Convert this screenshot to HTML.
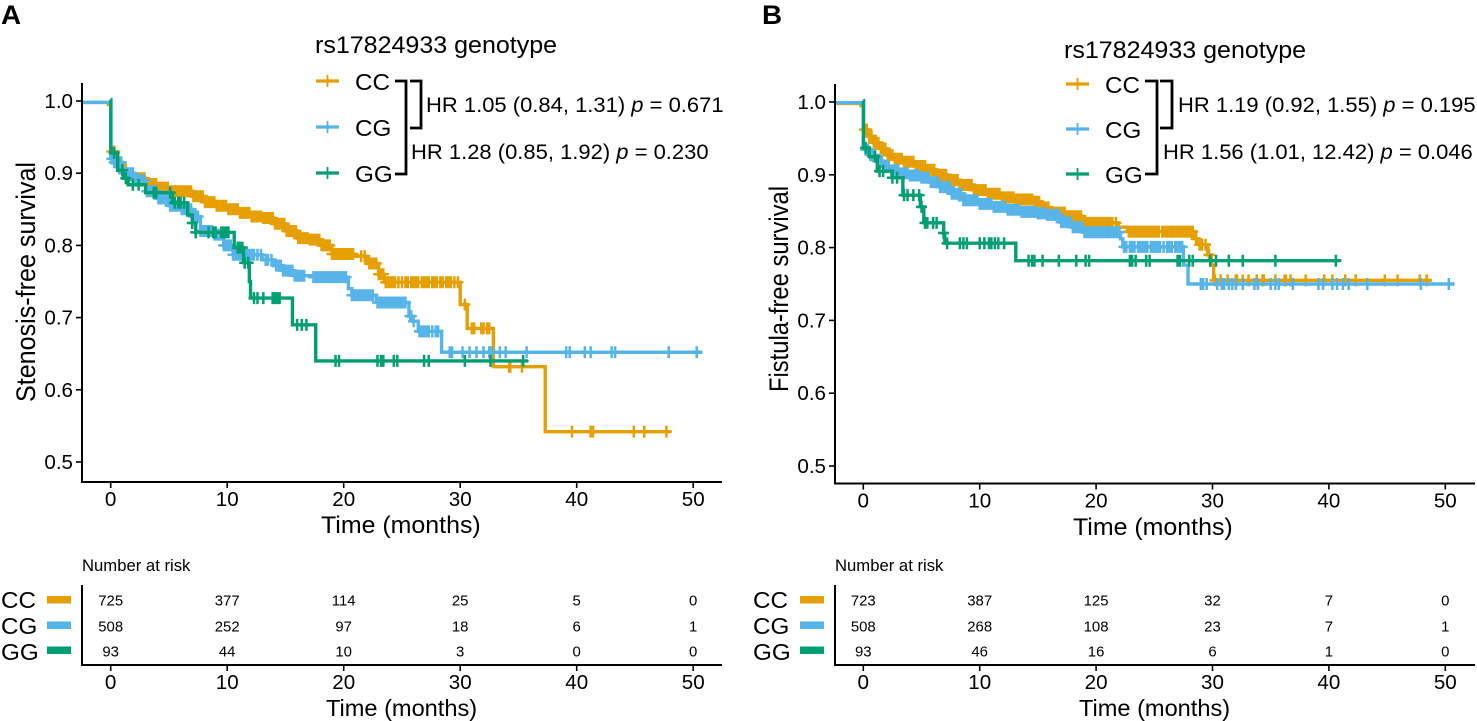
<!DOCTYPE html>
<html lang="en">
<head>
<meta charset="utf-8">
<title>Kaplan-Meier survival by rs17824933 genotype</title>
<style>
html,body{margin:0;padding:0;background:#fff;width:1477px;height:721px;overflow:hidden}
svg{display:block}
text{font-family:"Liberation Sans",Arial,sans-serif;fill:#000}
.title{font-size:24.3px}
.hr{font-size:21.35px}
.leg{font-size:23.5px}
.lab{font-size:24.2px}
.lab2{font-size:22.9px}
.rot{font-size:26.5px}
.nar{font-size:16.2px}
.letter{font-size:27px;font-weight:bold}
.tick{font-size:20px}
.risk{font-size:14.5px}
.br{fill:none;stroke:#000;stroke-width:2.8;stroke-linejoin:miter}
</style>
</head>
<body>
<svg id="chart" xmlns="http://www.w3.org/2000/svg" width="1477" height="721" viewBox="0 0 1477 721">
  <text class="letter hs" x="1" y="24">A</text>
  <text class="letter hs" x="762" y="24">B</text>

  <text class="rot" transform="translate(35,282) rotate(-90)" text-anchor="middle" textLength="240" lengthAdjust="spacingAndGlyphs">Stenosis-free survival</text>
  <text class="rot" transform="translate(788,289) rotate(-90)" text-anchor="middle" textLength="206" lengthAdjust="spacingAndGlyphs">Fistula-free survival</text>

  <text class="lab hs" x="321" y="533">Time (months)</text>
  <text class="lab hs" x="1073" y="535">Time (months)</text>
  <text class="lab2 hs" x="326" y="716">Time (months)</text>
  <text class="lab2 hs" x="1079" y="716">Time (months)</text>

  <text class="title hs" x="315" y="53">rs17824933 genotype</text>
  <text class="leg hs" x="355" y="90">CC</text>
  <text class="leg hs" x="355" y="136">CG</text>
  <text class="leg hs" x="355" y="182">GG</text>
  <path class="br" d="M395 81H406V174H395"/>
  <path class="br" d="M410 81H421V128H410"/>
  <text class="hr hs" x="426" y="112">HR 1.05 (0.84, 1.31) <tspan font-style="italic">p</tspan> = 0.671</text>
  <text class="hr hs" x="411" y="159">HR 1.28 (0.85, 1.92) <tspan font-style="italic">p</tspan> = 0.230</text>

  <text class="title hs" x="1064" y="58">rs17824933 genotype</text>
  <text class="leg hs" x="1105" y="93">CC</text>
  <text class="leg hs" x="1105" y="138">CG</text>
  <text class="leg hs" x="1105" y="183">GG</text>
  <path class="br" d="M1145 81H1157V174H1145"/>
  <path class="br" d="M1160 81H1172V128H1160"/>
  <text class="hr hs" x="1178" y="112">HR 1.19 (0.92, 1.55) <tspan font-style="italic">p</tspan> = 0.195</text>
  <text class="hr hs" x="1163" y="159">HR 1.56 (1.01, 12.42) <tspan font-style="italic">p</tspan> = 0.046</text>

  <text class="nar hs" x="82" y="571">Number at risk</text>
  <text class="nar hs" x="835" y="571">Number at risk</text>
  <text class="leg hs" x="1" y="608">CC</text>
  <text class="leg hs" x="1" y="634">CG</text>
  <text class="leg hs" x="1" y="660">GG</text>
  <text class="leg hs" x="753" y="608">CC</text>
  <text class="leg hs" x="753" y="634">CG</text>
  <text class="leg hs" x="753" y="660">GG</text>
  <g id="marks"></g>
</svg>
<script>
const xTickLabels = [0, 10, 20, 30, 40, 50];
const yTickLabels = [1.0, 0.9, 0.8, 0.7, 0.6, 0.5];
const groupNames = ['CC', 'CG', 'GG'];
const groupColors = ['#E69F00', '#56B4E9', '#009E73'];

const aCCTimes = [-2.4,-0.2,0,0.5,1,1.5,2,3,4,5,6.5,7,8,9,10,11,12,13,14,15,16,17,18,19,20.9,22,23,23.5,30,30.3,30.6,32.85,37.3];
const aCCSurv = [0.998,0.995,0.93,0.915,0.905,0.898,0.893,0.885,0.88,0.875,0.875,0.868,0.86,0.855,0.85,0.845,0.84,0.838,0.83,0.82,0.81,0.808,0.80,0.788,0.785,0.775,0.76,0.749,0.718,0.718,0.685,0.632,0.542];
const aCCCensor = [0.1,0.3,0.5,0.7,0.9,1.1,1.3,1.5,1.7,1.9,2.1,2.3,2.5,2.7,2.9,3.1,3.3,3.5,3.7,3.9,4.1,4.3,4.5,4.7,4.9,5.1,5.3,5.5,5.7,5.9,6.1,6.3,6.5,6.7,6.9,7.1,7.3,7.5,7.7,7.9,8.1,8.3,8.5,8.7,8.9,9.1,9.3,9.5,9.7,9.9,10.1,10.3,10.5,10.7,10.9,11.1,11.3,11.5,11.7,11.9,12.1,12.3,12.5,12.7,12.9,13.1,13.3,13.5,13.7,13.9,14.1,14.3,14.5,14.7,14.9,15.1,15.3,15.5,15.7,15.9,16.1,16.3,16.5,16.7,16.9,17.1,17.3,17.5,17.7,17.9,18.1,18.3,18.5,18.6,18.8,19,19.2,19.4,19.6,19.8,20,20.2,20.4,20.6,20.8,21.5,21.8,22.2,22.4,22.6,22.8,23,23.2,23.4,23.6,23.8,24,24.2,24.4,24.7,25,25.3,25.5,25.8,26,26.2,26.4,26.7,26.9,27.1,27.3,27.6,27.8,28,28.3,28.5,28.8,29,29.2,29.5,29.8,30.4,31,31.2,31.8,32,32.3,32.5,34.2,34.3,35.3,39.6,41.2,41.4,44.9,45.8,47.7];
const aCGTimes = [-2.4,0,0.3,1,2,3,4,5,6,7,7.7,8.8,9.7,10.5,13,14,14.8,15.7,17.4,20.4,20.7,22.8,25.6,25.9,26.4,28.4];
const aCGSurv = [0.998,0.92,0.915,0.90,0.89,0.875,0.865,0.855,0.85,0.84,0.82,0.815,0.80,0.787,0.78,0.772,0.765,0.758,0.756,0.74,0.731,0.721,0.702,0.695,0.681,0.652];
const aCGCensor = [0.1,0.3,0.5,0.7,0.9,1.1,1.3,1.5,1.7,1.9,2.1,2.3,2.5,2.7,2.9,3.1,3.3,3.5,3.7,3.9,4.1,4.3,4.5,4.7,4.9,5.1,5.3,5.5,5.7,5.9,6.1,6.3,6.5,6.7,6.9,7.1,7.3,7.5,7.7,7.9,8.1,8.3,8.5,8.7,8.9,9.1,9.3,9.5,9.7,9.9,10.1,10.3,10.5,10.7,10.9,11.1,11.3,11.5,11.7,11.9,12.1,12.3,12.6,12.9,13.3,13.5,13.8,14.2,14.4,14.6,14.8,15,15.2,15.4,15.6,15.8,16,16.2,16.4,16.6,17.4,17.6,17.8,18,18.2,18.4,18.6,18.8,19,19.2,19.4,19.6,19.8,20,20.2,20.7,20.9,21.1,21.3,21.5,21.7,21.9,22.1,22.3,22.5,22.9,23.1,23.3,23.5,23.7,23.9,24.1,24.3,24.5,24.7,24.9,25.1,25.3,25.7,25.8,26,26.5,26.7,26.9,27.1,27.3,27.6,27.9,28.1,29.1,29.3,30.2,30.8,31.4,32,32.5,32.7,33.4,33.9,35.7,39.1,39.4,40.7,41.2,43,43.3,47.9,50.3];
const aCGEnd = 50.8;
const aGGTimes = [0,0.02,0.6,1.1,1.5,3,5.3,6.6,7,7.3,10.6,11,11.4,11.9,12,15.6,17.6];
const aGGSurv = [1.002,0.928,0.904,0.893,0.884,0.873,0.859,0.842,0.831,0.818,0.797,0.797,0.776,0.75,0.727,0.69,0.64];
const aGGCensor = [0.3,1,1.3,1.9,2.4,3.7,3.9,5.1,5.5,5.8,6,6.3,7,7.3,8.4,8.8,9,9.5,9.7,9.9,10.1,10.9,11.1,11.3,11.5,11.8,12.3,12.6,13.1,13.9,14.1,14.3,14.5,16,16.4,16.8,19.3,19.6,22.9,23.2,23.4,24.3,24.6,26.9,27.3,30.4,32.6,35.4];
const aGGEnd = 35.8;
const aCCEnd = 48;

const bCCTimes = [-2.4,-0.2,0,0.4,0.9,1.4,2,2.7,3.4,4.4,5.5,6.3,7.2,8.3,9.5,10.6,11.8,13,14.6,15.3,16.1,17.5,18.9,21.9,22.7,28.5,28.8,29.6,29.9,30.1];
const bCCSurv = [0.998,0.995,0.962,0.953,0.944,0.936,0.927,0.922,0.918,0.912,0.907,0.90,0.893,0.886,0.879,0.874,0.869,0.866,0.863,0.855,0.848,0.843,0.834,0.828,0.822,0.812,0.804,0.79,0.776,0.755];
const bCCCensor = [0.1,0.3,0.5,0.7,0.9,1.1,1.3,1.5,1.7,1.9,2.1,2.3,2.5,2.7,2.9,3.1,3.3,3.5,3.7,3.9,4.1,4.3,4.5,4.7,4.9,5.1,5.3,5.5,5.7,5.9,6.1,6.3,6.5,6.7,6.9,7.1,7.3,7.5,7.7,7.9,8.1,8.3,8.5,8.7,8.9,9.1,9.3,9.5,9.7,9.9,10.1,10.3,10.5,10.7,10.9,11.1,11.3,11.5,11.7,11.9,12.1,12.3,12.5,12.7,12.9,13.1,13.3,13.5,13.7,13.9,14.1,14.3,14.5,14.7,14.9,15.1,15.3,15.5,15.7,15.9,16.1,16.3,16.5,16.7,16.9,17.1,17.3,17.5,17.7,17.9,18.1,18.3,18.5,18.7,19,19.2,19.4,19.6,19.8,20,20.2,20.4,20.6,20.8,21,21.2,21.4,21.7,22.8,23,23.2,23.4,23.6,23.8,24,24.2,24.4,24.6,24.8,25,25.2,25.4,25.7,25.9,26.1,26.3,26.5,26.7,26.9,27.1,27.3,27.5,27.7,27.9,28.1,28.3,28.6,28.9,29.1,29.4,29.7,30.2,30.7,31.3,32,32.1,32.6,33.1,33.8,34.3,34.4,35.4,36.2,36.3,36.7,38,39.6,40.3,41.4,42.3,44.8,45.9,47.8,48.4];
const bCCEnd = 48.8;
const bCGTimes = [-2.4,-0.1,0,0.6,1.1,1.7,2.4,3.2,4,4.9,5.7,6.6,7.6,8.6,9.9,11.2,12.3,13.5,15,15.8,16.9,17.9,18.9,22.1,22.3,27.5,27.9];
const bCGSurv = [0.999,0.997,0.935,0.927,0.919,0.911,0.906,0.902,0.899,0.896,0.89,0.883,0.874,0.865,0.86,0.856,0.852,0.849,0.847,0.845,0.835,0.828,0.821,0.812,0.801,0.776,0.75];
const bCGCensor = [0.2,0.4,0.6,0.8,1,1.2,1.4,1.6,1.8,2,2.2,2.4,2.6,2.8,3,3.2,3.4,3.6,3.8,4,4.2,4.4,4.6,4.8,5,5.2,5.4,5.6,5.8,6,6.2,6.4,6.6,6.8,7,7.2,7.4,7.6,7.8,8,8.2,8.4,8.6,8.8,9,9.2,9.4,9.6,9.8,10,10.2,10.4,10.6,10.8,11,11.2,11.4,11.6,11.8,12,12.2,12.4,12.6,12.8,13,13.2,13.4,13.6,13.8,14,14.2,14.4,14.6,14.8,15,15.2,15.4,15.6,15.8,16,16.2,16.4,16.6,16.8,17,17.2,17.4,17.6,17.8,18,18.2,18.4,18.6,18.8,19,19.2,19.4,19.6,19.8,20,20.2,20.4,20.6,20.8,21,21.2,21.4,21.6,21.8,22,22.4,22.6,22.9,23.1,23.3,23.6,23.8,24,24.2,24.4,24.7,24.9,25.1,25.3,25.5,25.8,26.1,26.3,26.5,26.8,27,27.2,27.4,29,29.2,29.5,30.4,30.8,31,31.4,31.7,32,32.6,33.6,33.9,35,35.4,35.7,36.9,39.1,39.5,40.3,40.7,41.2,41.7,43.3,47.9,50.3];
const bCGEnd = 50.8;
const bGGTimes = [0,0.02,0.5,1.2,1.9,2.5,3.2,3.4,4.5,4.9,5.2,6.4,6.9,7,13.1];
const bGGSurv = [1.002,0.937,0.925,0.905,0.905,0.896,0.896,0.872,0.872,0.856,0.834,0.834,0.82,0.806,0.782];
const bGGCensor = [0.2,1,1.4,1.7,2.5,2.9,3.5,3.8,4.3,4.8,5,5.3,5.5,6,6.3,6.9,7.2,8.3,8.6,8.9,10,10.4,10.8,11,11.3,11.6,12.1,14.2,14.5,14.7,15.4,16.8,18.3,19.1,19.4,22.9,23.1,23.4,24.3,24.6,27,27.2,28,28.3,29.8,30.3,31.4,32.6,35.4,40.6];
const bGGEnd = 41;

const aRiskCC = [725, 377, 114, 25, 5, 0];
const aRiskCG = [508, 252, 97, 18, 6, 1];
const aRiskGG = [93, 44, 10, 3, 0, 0];
const bRiskCC = [723, 387, 125, 32, 7, 0];
const bRiskCG = [508, 268, 108, 23, 7, 1];
const bRiskGG = [93, 46, 16, 6, 1, 0];

const NS = 'http://www.w3.org/2000/svg';
const root = document.getElementById('marks');

function line(parent, x1, y1, x2, y2, color, w) {
  const el = document.createElementNS(NS, 'line');
  el.setAttribute('x1', x1);
  el.setAttribute('y1', y1);
  el.setAttribute('x2', x2);
  el.setAttribute('y2', y2);
  el.setAttribute('stroke', color);
  el.setAttribute('stroke-width', w);
  parent.appendChild(el);
  return el;
}
function label(parent, x, y, str, cls, anchor) {
  const el = document.createElementNS(NS, 'text');
  el.setAttribute('x', x);
  el.setAttribute('y', y);
  el.setAttribute('class', cls);
  el.setAttribute('text-anchor', anchor);
  el.textContent = str;
  parent.appendChild(el);
  return el;
}
function survivalAt(times, surv, t) {
  let v = surv[0];
  for (let i = 0; i < times.length; i++) { if (times[i] <= t) v = surv[i]; }
  return v;
}
function drawPanel(p) {
  const g = document.createElementNS(NS, 'g');
  
  
  root.appendChild(g);
  const xScale = t => p.x0 + p.xPerMonth * t;
  const yScale = s => p.y1 + (1 - s) * p.yPerUnit;

  // survival curves + censor ticks
  p.series.forEach((s, i) => {
    const color = groupColors[i];
    const sg = document.createElementNS(NS, 'g');
    
    
    g.appendChild(sg);
    let d = 'M' + xScale(s.times[0]).toFixed(2) + ' ' + yScale(s.surv[0]).toFixed(2);
    for (let k = 1; k < s.times.length; k++) {
      d += 'H' + xScale(s.times[k]).toFixed(2) + 'V' + yScale(s.surv[k]).toFixed(2);
    }
    d += 'H' + xScale(s.end).toFixed(2);
    const path = document.createElementNS(NS, 'path');
    
    
    path.setAttribute('d', d);
    path.setAttribute('fill', 'none');
    path.setAttribute('stroke', color);
    path.setAttribute('stroke-width', '3.4');
    sg.appendChild(path);
    s.censor.forEach(t => {
      const cx = xScale(t);
      const cy = yScale(survivalAt(s.times, s.surv, t));
      const mark = document.createElementNS(NS, 'path');
      
      
      mark.setAttribute('d', 'M' + (cx - 5.5).toFixed(2) + ' ' + cy.toFixed(2) + 'H' + (cx + 5.5).toFixed(2) + 'M' + cx.toFixed(2) + ' ' + (cy - 6).toFixed(2) + 'V' + (cy + 6).toFixed(2));
      mark.setAttribute('stroke', color);
      mark.setAttribute('stroke-width', '2.5');
      mark.setAttribute('fill', 'none');
      sg.appendChild(mark);
    });
    // legend key
    const key = document.createElementNS(NS, 'g');
    
    
    g.appendChild(key);
    line(key, p.keyX, p.keyY[i], p.keyX + 23, p.keyY[i], color, 3.2);
    line(key, p.keyX + 11.5, p.keyY[i] - 6, p.keyX + 11.5, p.keyY[i] + 6, color, 1.8);
  });

  // main axes
  const axes = document.createElementNS(NS, 'g');
  
  
  g.appendChild(axes);
  line(axes, p.axisX, p.axisTop, p.axisX, p.axisBottom + 1, '#000', 2);
  line(axes, p.axisX - 1, p.axisBottom, p.axisRight, p.axisBottom, '#000', 2);
  yTickLabels.forEach(v => {
    line(axes, p.axisX - 6, yScale(v), p.axisX, yScale(v), '#000', 1.6);
    label(axes, p.axisX - 9, yScale(v) + 7, v.toFixed(1), 'tick hs', 'end');
  });
  xTickLabels.forEach(v => {
    line(axes, xScale(v), p.axisBottom, xScale(v), p.axisBottom + 6, '#000', 1.6);
    label(axes, xScale(v), p.axisBottom + 24, String(v), 'tick hs', 'middle');
  });

  // risk table
  const table = document.createElementNS(NS, 'g');
  
  
  g.appendChild(table);
  line(table, p.axisX, 585, p.axisX, 666, '#000', 2);
  line(table, p.axisX - 1, 665, p.axisRight, 665, '#000', 2);
  xTickLabels.forEach(v => {
    line(table, xScale(v), 665, xScale(v), 671, '#000', 1.6);
    label(table, xScale(v), 689, String(v), 'tick hs', 'middle');
  });
  const rowBase = [605.5, 631.5, 656.5];
  const swatchY = [596, 621.5, 646.5];
  p.risk.forEach((row, r) => {
    const sw = document.createElementNS(NS, 'rect');
    
    
    sw.setAttribute('x', p.axisX - 35);
    sw.setAttribute('y', swatchY[r]);
    sw.setAttribute('width', 24);
    sw.setAttribute('height', 7.5);
    sw.setAttribute('fill', groupColors[r]);
    table.appendChild(sw);
    row.forEach((n, c) => {
      const cell = label(table, xScale(xTickLabels[c]), rowBase[r], String(n), 'risk hs', 'middle');
      
      
    });
  });
}

drawPanel({
  id: 'a', x0: 110.7, xPerMonth: 11.65, y1: 101, yPerUnit: 722,
  axisX: 82, axisTop: 83, axisBottom: 482, axisRight: 722,
  keyX: 316, keyY: [81, 127, 173],
  series: [
    {times: aCCTimes, surv: aCCSurv, censor: aCCCensor, end: aCCEnd},
    {times: aCGTimes, surv: aCGSurv, censor: aCGCensor, end: aCGEnd},
    {times: aGGTimes, surv: aGGSurv, censor: aGGCensor, end: aGGEnd}
  ],
  risk: [aRiskCC, aRiskCG, aRiskGG]
});
drawPanel({
  id: 'b', x0: 863.3, xPerMonth: 11.64, y1: 102, yPerUnit: 728,
  axisX: 835, axisTop: 84, axisBottom: 483.5, axisRight: 1475,
  keyX: 1066, keyY: [84, 129, 174],
  series: [
    {times: bCCTimes, surv: bCCSurv, censor: bCCCensor, end: bCCEnd},
    {times: bCGTimes, surv: bCGSurv, censor: bCGCensor, end: bCGEnd},
    {times: bGGTimes, surv: bGGSurv, censor: bGGCensor, end: bGGEnd}
  ],
  risk: [bRiskCC, bRiskCG, bRiskGG]
});

// keep text widths aligned with the reference's slightly wide glyph set
document.querySelectorAll('text.hs').forEach(t => {
  const w = t.getComputedTextLength();
  t.setAttribute('textLength', (w * 1.03).toFixed(1));
  t.setAttribute('lengthAdjust', 'spacingAndGlyphs');
});
</script>
</body>
</html>
